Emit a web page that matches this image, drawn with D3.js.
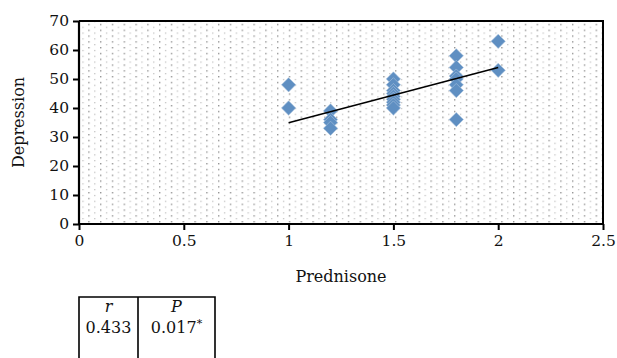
<!DOCTYPE html>
<html>
<head>
<meta charset="utf-8">
<script src="https://cdn.jsdelivr.net/npm/d3@7"></script>
<style>
  body { margin: 0; background: #fff; }
  svg { display: block; font-family: "DejaVu Serif", serif; }
</style>
</head>
<body>
<div id="chart"></div>
<script>
// prednisone dose vs depression score
const prednisone = [1, 1, 1.2, 1.2, 1.2, 1.2, 1.5, 1.5, 1.5, 1.5, 1.5, 1.5, 1.5, 1.5, 1.5,
  1.8, 1.8, 1.8, 1.8, 1.8, 1.8, 1.8, 2, 2];
const depression = [48, 40, 39, 36, 35, 33, 50, 48, 46, 45, 44, 43, 42, 41, 40,
  58, 54, 51, 50, 48, 46, 36, 63, 53];

// trend line end points
const fitX = [1, 2];
const fitY = [34.9, 54.0];

const xTicks = [0, 0.5, 1, 1.5, 2, 2.5];
const yTicks = [0, 10, 20, 30, 40, 50, 60, 70];

const statHeads = ["r", "P"];
const statVals = ["0.433", "0.017"];

const FONT = "'DejaVu Serif', serif";
const W = 617, H = 358;
const margin = { top: 21, right: 14, bottom: 134, left: 79 };
const width = W - margin.left - margin.right,
  height = H - margin.top - margin.bottom;

const svg = d3.select("#chart").append("svg")
  .attr("width", W)
  .attr("height", H);

// dotted background fill
const defs = svg.append("defs");
const pat = defs.append("pattern")
  .attr("id", "dots")
  .attr("patternUnits", "userSpaceOnUse")
  .attr("x", margin.left + 1)
  .attr("y", margin.top + 5)
  .attr("width", 11.8)
  .attr("height", 5.8);
pat.append("rect").attr("x", 0).attr("y", 0).attr("width", 1.4).attr("height", 1.4).attr("fill", "#959595");
pat.append("rect").attr("x", 6).attr("y", 2.9).attr("width", 1.2).attr("height", 1.2).attr("fill", "#bababa");

const x = d3.scaleLinear().domain([0, 2.5]).range([0, width]);
const y = d3.scaleLinear().domain([0, 70]).range([height, 0]);

const g = svg.append("g").attr("transform", `translate(${margin.left},${margin.top})`);

g.append("rect")
  .attr("width", width)
  .attr("height", height)
  .attr("fill", "url(#dots)");

// frame (top + right)
g.append("path")
  .attr("d", `M0,0H${width}V${height}`)
  .attr("fill", "none")
  .attr("stroke", "#000")
  .attr("stroke-width", 2);

const xAxis = g.append("g")
  .attr("transform", `translate(0,${height})`)
  .call(d3.axisBottom(x).tickValues(xTicks).tickSize(6).tickPadding(5).tickFormat(d3.format("")));
const yAxis = g.append("g")
  .call(d3.axisLeft(y).tickValues(yTicks).tickSize(6).tickPadding(4));

[xAxis, yAxis].forEach(a => {
  a.attr("font-family", FONT);
  a.select(".domain").attr("stroke-width", 2.2).attr("stroke", "#000");
  a.selectAll(".tick line").attr("stroke-width", 2).attr("stroke", "#000");
  a.selectAll(".tick text")
    .attr("font-size", 15.5)
    .attr("fill", "#111");
});
// domain paths without outer ticks
xAxis.select(".domain").attr("d", `M0,0H${width}`);
yAxis.select(".domain").attr("d", `M0,0V${height}`);

// points
const diamond = d3.symbol().type(d3.symbolDiamond2).size(130);
g.append("g")
  .selectAll("path")
  .data(prednisone.map((p, i) => [p, depression[i]]))
  .join("path")
  .attr("d", diamond)
  .attr("transform", d => `translate(${x(d[0])},${y(d[1])})`)
  .attr("fill", "#5f8fc2")
  .attr("stroke", "#a9c2de")
  .attr("stroke-width", 0.6);

// trend line
g.append("line")
  .attr("x1", x(fitX[0])).attr("y1", y(fitY[0]))
  .attr("x2", x(fitX[1])).attr("y2", y(fitY[1]))
  .attr("stroke", "#000")
  .attr("stroke-width", 1.5);

// axis titles
svg.append("text")
  .attr("x", margin.left + width / 2)
  .attr("y", 282)
  .attr("text-anchor", "middle")
  .attr("font-size", 16)
  .attr("fill", "#111")
  .text("Prednisone");

svg.append("text")
  .attr("transform", `translate(24,${margin.top + height / 2}) rotate(-90)`)
  .attr("text-anchor", "middle")
  .attr("font-size", 16)
  .attr("fill", "#111")
  .text("Depression");

// stats table
const tbl = svg.append("g").attr("transform", "translate(79,297)");
const cols = [0, 59, 136];
tbl.append("path")
  .attr("d", `M0,61V0H${cols[2]}V61M${cols[1]},0V61`)
  .attr("fill", "none")
  .attr("stroke", "#000")
  .attr("stroke-width", 1.6);

statHeads.forEach((h, i) => {
  const cx = (cols[i] + cols[i + 1]) / 2;
  tbl.append("text")
    .attr("x", cx).attr("y", 15)
    .attr("text-anchor", "middle")
    .attr("font-size", 16)
    .attr("font-style", "italic")
    .attr("fill", "#111")
    .text(h);
  const t = tbl.append("text")
    .attr("x", cx).attr("y", 36)
    .attr("text-anchor", "middle")
    .attr("font-size", 16)
    .attr("fill", "#111")
    .text(statVals[i]);
  if (i === 1) {
    t.append("tspan").attr("dy", -6).attr("font-size", 11).text("*");
  }
});
</script>
</body>
</html>
